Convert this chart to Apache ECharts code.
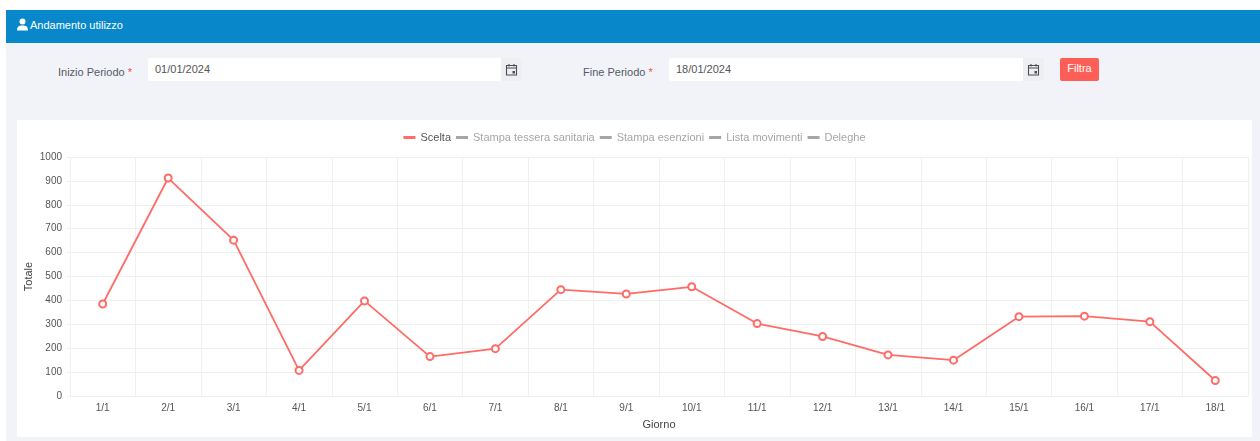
<!DOCTYPE html>
<html>
<head>
<meta charset="utf-8">
<title>Andamento utilizzo</title>
<script src="https://cdn.jsdelivr.net/npm/echarts@6/dist/echarts.min.js"></script>
<style>
  html, body { margin: 0; padding: 0; width: 1260px; height: 441px; overflow: hidden; background: #fff; font-family: "Liberation Sans", Arial, sans-serif; }
  .page { position: absolute; left: 6px; top: 10px; width: 1254px; height: 431px; background: #f1f3f8; }
  .header { position: absolute; left: 6px; top: 10px; width: 1254px; height: 33px; background: #0888cb; color: #fff; font-size: 11px; line-height: 31px; }
  .header svg { position: absolute; left: 10px; top: 8px; }
  .header span { position: absolute; left: 24px; }
  .label { position: absolute; top: 66px; font-size: 11px; color: #555a66; white-space: nowrap; }
  .label i { color: #f0504a; font-style: normal; }
  .input { position: absolute; top: 58px; height: 23px; background: #fff; border-radius: 2px 0 0 2px; font-size: 11px; line-height: 22px; color: #555; box-sizing: border-box; padding-left: 7px; }
  .addon { position: absolute; top: 58px; width: 21px; height: 23px; background: #eeeff1; border-radius: 0 2px 2px 0; }
  .addon svg { position: absolute; left: 4px; top: 5px; }
  .btn { position: absolute; left: 1060px; top: 58px; width: 39px; height: 23px; background: #fd5f57; color: #fff; border-radius: 2px; font-size: 11px; line-height: 21px; text-align: center; }
  #chart { position: absolute; left: 17px; top: 120px; width: 1235px; height: 317px; background: #fff; }
</style>
</head>
<body>
<div class="page"></div>
<div class="header">
  <svg width="13" height="13" viewBox="0 0 13 13"><circle cx="6.5" cy="3.5" r="3" fill="#fff"/><path d="M1 12.5 C1 8.5 3 7.5 6.5 7.5 C10 7.5 12 8.5 12 12.5 Z" fill="#fff"/></svg>
  <span>Andamento utilizzo</span>
</div>

<div class="label" style="left:58px">Inizio Periodo <i>*</i></div>
<div class="input" style="left:148px;width:353px">01/01/2024</div>
<div class="addon" style="left:501px"><svg width="13" height="13" viewBox="0 0 13 13"><path d="M1.5 2.5h10v9.500h-10z M1.500 5h10" fill="none" stroke="#4a4f57" stroke-width="1.100"/><path d="M4 1v2.500M9 1v2.500" stroke="#4a4f57" stroke-width="1.100"/><rect x="7.500" y="8" width="2.500" height="2.500" fill="#4a4f57"/></svg></div>

<div class="label" style="left:583px">Fine Periodo <i>*</i></div>
<div class="input" style="left:669px;width:354px">18/01/2024</div>
<div class="addon" style="left:1023px"><svg width="13" height="13" viewBox="0 0 13 13"><path d="M1.5 2.5h10v9.500h-10z M1.500 5h10" fill="none" stroke="#4a4f57" stroke-width="1.100"/><path d="M4 1v2.500M9 1v2.500" stroke="#4a4f57" stroke-width="1.100"/><rect x="7.500" y="8" width="2.500" height="2.500" fill="#4a4f57"/></svg></div>

<div class="btn">Filtra</div>

<div id="chart"></div>

<script>
  // dati
  const giorni = ['1/1', '2/1', '3/1', '4/1', '5/1', '6/1', '7/1', '8/1', '9/1', '10/1', '11/1', '12/1', '13/1', '14/1', '15/1', '16/1', '17/1', '18/1']
  const scelta = [385, 912, 652, 107, 398, 165, 198, 445, 427, 457, 303, 249, 172, 150, 332, 334, 311, 65]
  const nomiSerie = ['Scelta', 'Stampa tessera sanitaria', 'Stampa esenzioni', 'Lista movimenti', 'Deleghe']

  const chart = echarts.init(document.getElementById('chart'))

  chart.setOption({
    animation: false,
    textStyle: { fontFamily: '"Liberation Sans", Arial, sans-serif' },
    legend: {
      data: nomiSerie,
      top: 7,
      itemWidth: 12,
      itemHeight: 3,
      itemGap: 5,
      icon: 'rect',
      inactiveColor: '#a6a6a6',
      textStyle: { fontSize: 11, color: '#555' },
      selected: {
        'Stampa tessera sanitaria': false,
        'Stampa esenzioni': false,
        'Lista movimenti': false,
        'Deleghe': false
      }
    },
    grid: { left: 53, right: 4, top: 37, bottom: 41, outerBoundsMode: 'none' },
    xAxis: {
      type: 'category',
      data: giorni,
      name: 'Giorno',
      nameLocation: 'middle',
      nameGap: 23,
      nameTextStyle: { fontSize: 11, color: '#444' },
      axisLine: { lineStyle: { color: '#eee' } },
      axisTick: { lineStyle: { color: '#e6e6e6' } },
      axisLabel: { fontSize: 10, color: '#555', margin: 7, interval: 0 },
      splitLine: { show: true, lineStyle: { color: '#f0f0f0' } }
    },
    yAxis: {
      type: 'value',
      min: 0,
      max: 1000,
      interval: 100,
      name: 'Totale',
      nameLocation: 'middle',
      nameGap: 36,
      nameMoveOverlap: false,
      nameTextStyle: { fontSize: 11, color: '#444' },
      axisLine: { show: false },
      axisTick: { show: true, length: 3, lineStyle: { color: '#eee' } },
      axisLabel: { fontSize: 10, color: '#555', margin: 8, formatter: (v) => String(v) },
      splitLine: { lineStyle: { color: '#f0f0f0' } }
    },
    series: nomiSerie.map((nome, i) => ({
      name: nome,
      type: 'line',
      data: i === 0 ? scelta : [],
      symbol: 'emptyCircle',
      symbolSize: 7,
      color: i === 0 ? '#ff6b66' : '#999',
      lineStyle: { width: 1.8 },
      itemStyle: { borderWidth: 1.8 }
    }))
  })
</script>
</body>
</html>
